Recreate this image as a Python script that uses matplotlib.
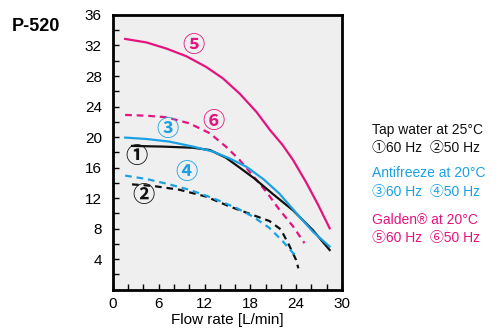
import numpy as np
import matplotlib.pyplot as plt
from matplotlib.ticker import MultipleLocator

plt.rcParams['font.family'] = ['Liberation Sans', 'Noto Sans CJK JP', 'DejaVu Sans']

# 曲线数据 (流量 L/min, 扬程)
# ① 自来水 60 Hz
x1 = [2.5, 6.6, 10.5, 12.7, 14.8, 16.6, 18.5, 21.0, 23.6, 26.2, 28.4]
y1 = [18.84, 18.75, 18.6, 18.3, 17.3, 16.0, 14.6, 12.5, 10.4, 7.8, 5.2]
# ② 自来水 50 Hz
x2 = [2.5, 5.2, 8.7, 12.2, 15.3, 18.3, 20.5, 22.0, 23.1, 24.0, 24.3]
y2 = [13.8, 13.6, 13.1, 12.2, 10.9, 9.8, 9.0, 7.9, 5.8, 3.9, 2.8]
# ③ 防冻液 60 Hz
x3 = [1.6, 4.4, 7.4, 10.5, 13.1, 15.3, 17.5, 19.7, 21.8, 24.5, 26.2, 28.4]
y3 = [19.93, 19.75, 19.4, 18.75, 18.1, 17.2, 16.1, 14.5, 12.6, 9.5, 7.6, 5.65]
# ④ 防冻液 50 Hz
x4 = [1.6, 4.4, 7.0, 10.0, 13.1, 16.2, 18.3, 20.5, 22.3, 23.6, 24.3]
y4 = [14.95, 14.5, 13.9, 13.1, 12.0, 10.7, 9.6, 8.1, 6.3, 4.8, 4.3]
# ⑤ Galden 60 Hz
x5 = [1.6, 4.4, 7.0, 9.6, 12.2, 14.4, 16.6, 18.8, 20.6, 22.2, 23.6, 25.3, 26.9, 28.4]
y5 = [32.86, 32.4, 31.6, 30.6, 29.2, 27.7, 25.7, 23.3, 20.9, 19.0, 17.0, 14.1, 11.1, 8.05]
# ⑥ Galden 50 Hz
x6 = [1.6, 4.4, 7.0, 10.0, 12.7, 14.8, 16.6, 18.3, 20.2, 21.8, 23.6, 25.1]
y6 = [22.9, 22.8, 22.6, 21.8, 20.5, 18.75, 17.0, 15.0, 12.7, 10.5, 8.3, 6.1]

labels = ['①', '②', '③', '④', '⑤', '⑥']
label_x = [3.1, 4.0, 7.1, 9.7, 10.5, 13.2]
label_y = [17.35, 12.2, 20.9, 15.25, 31.9, 21.9]

black = '#111111'
blue = '#1ba1e2'
pink = '#e4147f'
label_colors = [black, black, blue, blue, pink, pink]

fig = plt.figure(figsize=(5.02, 3.29), dpi=100)
ax = fig.add_axes([0.225, 0.1195, 0.456, 0.835])
ax.set_facecolor('#efefef')

dash = (0, (3, 2.2))
ax.plot(x5, y5, color=pink, lw=1.6)
ax.plot(x6, y6, color=pink, lw=1.6, ls=dash)
ax.plot(x1, y1, color=black, lw=1.6)
ax.plot(x3, y3, color=blue, lw=1.6)
ax.plot(x2, y2, color=black, lw=1.6, ls=dash)
ax.plot(x4, y4, color=blue, lw=1.6, ls=dash)

for t, lx, ly, c in zip(labels, label_x, label_y, label_colors):
    ax.text(lx, ly, t, color=c, fontsize=16, fontweight='bold', ha='center', va='center')

ax.set_xlim(0, 30)
ax.set_ylim(0, 36)
ax.set_xticks([0, 6, 12, 18, 24, 30])
ax.set_yticks([4, 8, 12, 16, 20, 24, 28, 32, 36])
ax.xaxis.set_minor_locator(MultipleLocator(2))
ax.yaxis.set_minor_locator(MultipleLocator(2))
ax.tick_params(which='both', direction='in', length=4, width=1, labelsize=11)
ax.tick_params(axis='y', pad=8)
ax.tick_params(axis='x', pad=5)
for s in ax.spines.values():
    s.set_linewidth(2)
ax.set_xlabel('Flow rate [L/min]', fontsize=11, labelpad=2)

fig.text(0.024, 0.92, 'P-520', fontsize=13, fontweight='bold', va='center')

legend_lines = [
    ('Tap water at 25°C', black, 0.605),
    ('①60 Hz  ②50 Hz', black, 0.55),
    ('Antifreeze at 20°C', blue, 0.474),
    ('③60 Hz  ④50 Hz', blue, 0.417),
    ('Galden® at 20°C', pink, 0.33),
    ('⑤60 Hz  ⑥50 Hz', pink, 0.278),
]
for t, c, yy in legend_lines:
    fig.text(0.741, yy, t, color=c, fontsize=10, va='center')

plt.savefig('out.png', dpi=100)
